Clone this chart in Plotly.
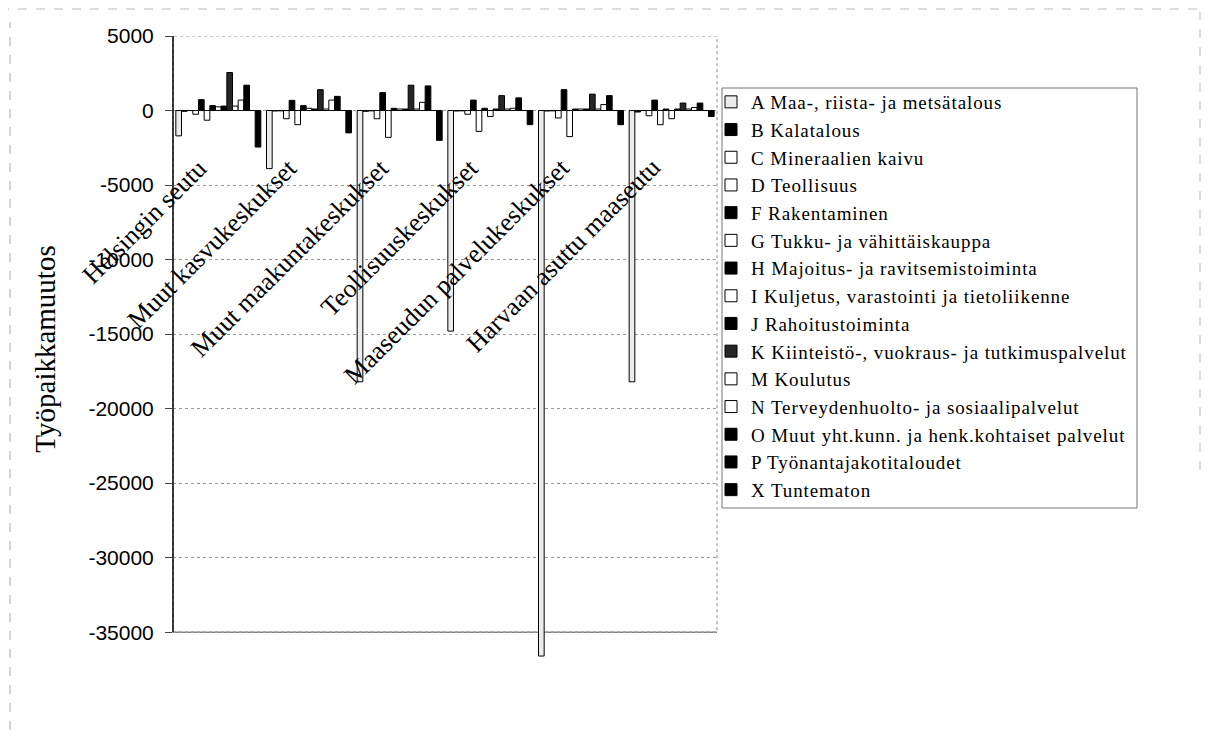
import plotly.graph_objects as go

categories = ["Helsingin seutu", "Muut kasvukeskukset", "Muut maakuntakeskukset",
              "Teollisuuskeskukset", "Maaseudun palvelukeskukset", "Harvaan asuttu maaseutu"]

series_names = [
    "A Maa-, riista- ja metsätalous",
    "B Kalatalous",
    "C Mineraalien kaivu",
    "D Teollisuus",
    "F Rakentaminen",
    "G Tukku- ja vähittäiskauppa",
    "H Majoitus- ja ravitsemistoiminta",
    "I Kuljetus, varastointi ja tietoliikenne",
    "J Rahoitustoiminta",
    "K Kiinteistö-, vuokraus- ja tutkimuspalvelut",
    "M Koulutus",
    "N Terveydenhuolto- ja sosiaalipalvelut",
    "O Muut yht.kunn. ja henk.kohtaiset palvelut",
    "P Työnantajakotitaloudet",
    "X Tuntematon",
]

A = [-1700, -3900, -18200, -14800, -36600, -18200]
B = [-50, -30, -50, -30, -30, -100]
C = [0, -20, -20, -20, -20, 0]
D = [-250, -550, -550, -250, -500, -350]
F = [730, 680, 1200, 700, 1400, 700]
G = [-650, -950, -1800, -1400, -1750, -950]
H = [330, 330, 150, 150, 100, 100]
I = [250, 150, 100, -400, 100, -550]
J = [300, 100, 100, 100, 100, 100]
K = [2550, 1400, 1700, 1000, 1100, 500]
M = [300, 100, 100, 100, 100, 100]
N = [700, 700, 550, 150, 400, 200]
O = [1700, 950, 1650, 850, 1000, 500]
P = [0, 0, 0, 0, 0, 0]
X = [-2450, -1500, -2000, -950, -950, -400]

tick_values = [5000, 0, -5000, -10000, -15000, -20000, -25000, -30000, -35000]
tick_labels = ["5000", "0", "-5000", "-10000", "-15000", "-20000", "-25000", "-30000", "-35000"]
axis_top, axis_bottom = 5000, -35000

values = [A, B, C, D, F, G, H, I, J, K, M, N, O, P, X]
fills = ["#ececec", "black", "white", "white", "black", "white", "black", "white",
         "black", "#262626", "white", "white", "black", "black", "black"]

fig = go.Figure()
for name, vals, col in zip(series_names, values, fills):
    fig.add_trace(go.Bar(
        x=categories, y=vals,
        name='<span style="letter-spacing:0.9px">' + name + '</span>',
        marker=dict(color=col, line=dict(color="black", width=1)),
    ))

serif = "Liberation Serif, Times New Roman, serif"
sans = "Liberation Sans, Arial, sans-serif"

# plot area in page pixels (page body has an 8px margin); the plot area extends
# below the -35000 axis end so the longest bar can overrun it as in the source
L, T, W, H_ = 165, 28, 544, 626
PX0, PY_TOP, PY_BOT = 173, 36, 662


def px(x):
    return (x - PX0) / W


def py(y):
    return (PY_BOT - y) / H_


fig.update_layout(
    width=1212, height=737,
    barmode="group", bargap=0.0625, bargroupgap=0,
    paper_bgcolor="white", plot_bgcolor="white",
    margin=dict(l=L, r=1212 - L - W, t=T, b=737 - T - H_),
    showlegend=True,
    legend=dict(
        x=px(711), y=py(83), xanchor="left", yanchor="top",
        font=dict(family=serif, size=19, color="black"),
        borderwidth=0, bgcolor="rgba(0,0,0,0)",
        itemwidth=30, tracegroupgap=0,
    ),
    xaxis=dict(
        type="category", range=[-0.5, 5.5],
        showticklabels=False, ticks="", showgrid=False,
        showline=False, zeroline=False,
    ),
    yaxis=dict(
        range=[-37000, 5000], tickvals=tick_values, ticktext=tick_labels,
        tickfont=dict(family=sans, size=21, color="black"),
        ticks="outside", ticklen=7, tickcolor="#444", ticklabelstandoff=7,
        showline=False,
        showgrid=True, gridcolor="#9a9a9a", griddash="dot", gridwidth=1,
        zeroline=False,
        title=dict(text="Työpaikkamuutos", font=dict(family=serif, size=29, color="black"),
                   standoff=24),
    ),
)

# plot area frame: dotted top/right, solid left axis and bottom line
fig.add_shape(type="rect", xref="paper", yref="y", x0=0, x1=1, y0=axis_bottom, y1=axis_top,
              line=dict(color="#888", width=1, dash="dot"), layer="below")
fig.add_shape(type="line", xref="paper", yref="y", x0=0, x1=1, y0=axis_bottom, y1=axis_bottom,
              line=dict(color="#444", width=1), layer="below")
fig.add_shape(type="line", xref="paper", yref="y", x0=0, x1=0, y0=axis_bottom, y1=axis_top,
              line=dict(color="black", width=1.5))

# legend frame
fig.add_shape(type="rect", xref="paper", yref="paper",
              x0=px(722), x1=px(1137), y0=py(508), y1=py(88),
              line=dict(color="#777", width=1))

# scanned page border (dashed)
fig.add_shape(type="line", xref="paper", yref="paper",
              x0=px(10), x1=px(10), y0=py(730), y1=py(22),
              line=dict(color="#aaa", width=1, dash="dash"))
fig.add_shape(type="line", xref="paper", yref="paper",
              x0=px(0), x1=px(1205), y0=py(9), y1=py(9),
              line=dict(color="#bbb", width=1, dash="dash"))
fig.add_shape(type="line", xref="paper", yref="paper",
              x0=px(1200), x1=px(1200), y0=py(470), y1=py(12),
              line=dict(color="#bbb", width=1, dash="dash"))

# category labels, rotated, placed near the zero line
for c in categories:
    fig.add_annotation(
        x=c, y=0, xref="x", yref="y", text=c, textangle=-45, showarrow=False,
        xanchor="right", yanchor="top", yshift=-40, xshift=-3,
        font=dict(family=serif, size=26, color="black"),
    )

fig.write_html("out.html")
